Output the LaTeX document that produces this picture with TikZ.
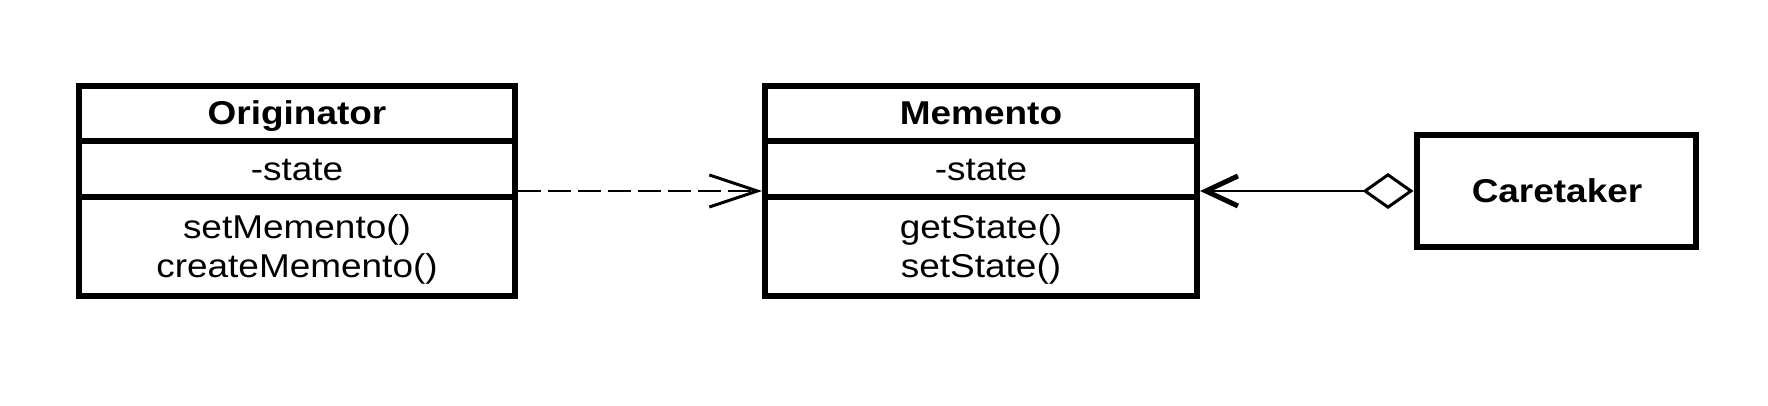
\documentclass[tikz,border=0pt]{standalone}
\usepackage{fontspec}
\setmainfont{Liberation Sans}[FakeStretch=1.12]
\usetikzlibrary{arrows.meta}
\tikzset{
  classbox/.style={draw=black, line width=6pt, rectangle, inner sep=0pt},
  divider/.style={line width=6pt},
  txt/.style={anchor=base, inner sep=0pt, font=\fontsize{33}{38}\selectfont},
  ttl/.style={txt, font=\fontsize{33}{38}\selectfont\bfseries},
  depend/.style={line width=2.5pt, dash pattern=on 23pt off 7pt, -{Straight Barb[length=48pt,width=32pt,line width=3pt]}},
  aggr/.style={line width=2.5pt, {Diamond[open,length=51pt,width=36pt,line width=3pt]}-{Straight Barb[length=32pt,width=30pt,line width=5pt]}}
}
\begin{document}
\begin{tikzpicture}[x=1pt,y=-1pt]
\useasboundingbox (0,0) rectangle (1768,406);
% Originator
\node[classbox, minimum width=436pt, minimum height=210pt] (orig) at (297,191) {};
\draw[divider] (orig.north west |- 0,141) -- (orig.north east |- 0,141);
\draw[divider] (orig.north west |- 0,197) -- (orig.north east |- 0,197);
\node[ttl] (origname) at (297,125) {Originator};
\node[txt] (origattr) at (297,181) {-state};
\node[txt] (origop1) at (297,238) {setMemento()};
\node[txt] (origop2) at (297,277) {createMemento()};
% Memento
\node[classbox, minimum width=432pt, minimum height=210pt] (mem) at (981,191) {};
\draw[divider] (mem.north west |- 0,141) -- (mem.north east |- 0,141);
\draw[divider] (mem.north west |- 0,197) -- (mem.north east |- 0,197);
\node[ttl] (memname) at (981,125) {Memento};
\node[txt] (memattr) at (981,181) {-state};
\node[txt] (memop1) at (981,238) {getState()};
\node[txt] (memop2) at (981,277) {setState()};
% Caretaker
\node[classbox, minimum width=279pt, minimum height=111pt] (care) at (1556,191) {};
\node[ttl] (carename) at (1557,202) {Caretaker};
% connectors
\draw[depend] (orig.east) -- (mem.west);
\draw[aggr] (care.west) -- (mem.east);
\end{tikzpicture}
\end{document}
